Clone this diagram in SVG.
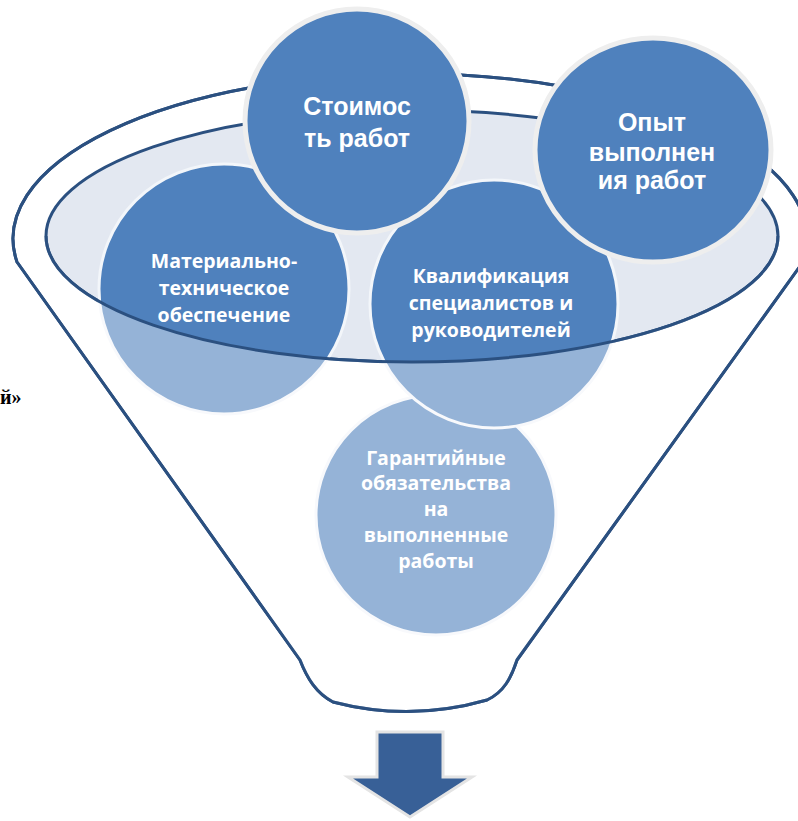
<svg xmlns="http://www.w3.org/2000/svg" width="798" height="821" viewBox="0 0 798 821">
  <style>
    .rim { stroke: #2b5080; stroke-width: 3; stroke-linejoin: round; }
    .disc { fill: #4f81bd; }
    .disc-soft { stroke: #f3f6fa; stroke-width: 3; }
    .disc-top { stroke: #eeeeee; stroke-width: 5; }
    .big { font-family: "Liberation Sans", Arial, sans-serif; font-weight: bold; font-size: 25px; fill: #ffffff; text-anchor: middle; }
    .small { font-family: "Open Sans", "DejaVu Sans", sans-serif; font-weight: bold; font-size: 19.5px; fill: #ffffff; text-anchor: middle; }
  </style>
  <defs>
    <!-- funnel body outline: back rim arc, two sides, rounded spout -->
    <path id="funnelShape" d="M 17,262 A 397,165 0 1 1 803,262 L 517,660 C 511,678 504,692 487,700 Q 410,722 333,702 C 316,693 307,678 300,660 Z"/>
  </defs>

  <rect width="798" height="821" fill="#ffffff"/>

  <!-- stray caption fragment at the left edge -->
  <text x="0" y="404" font-family="Liberation Serif, Times New Roman, serif" font-weight="bold" font-size="20" fill="#000000">й»</text>

  <!-- funnel back -->
  <g id="funnel">
    <use href="#funnelShape" fill="#ffffff" class="rim"/>
    <ellipse cx="412" cy="236" rx="366" ry="126" fill="#e3e8f1" class="rim"/>
  </g>

  <!-- circles inside the funnel -->
  <g id="node-guarantee">
    <circle cx="436" cy="515" r="120" class="disc disc-soft"/>
    <text class="small" x="436" y="465">Гарантийные</text>
    <text class="small" x="436" y="490">обязательства</text>
    <text class="small" x="436" y="516">на</text>
    <text class="small" x="436" y="542">выполненные</text>
    <text class="small" x="436" y="568">работы</text>
  </g>

  <g id="node-material">
    <circle cx="224" cy="289" r="125" class="disc disc-soft"/>
    <text class="small" x="224" y="268">Материально-</text>
    <text class="small" x="224" y="295">техническое</text>
    <text class="small" x="224" y="322">обеспечение</text>
  </g>

  <g id="node-qualification">
    <circle cx="494" cy="304" r="124" class="disc disc-soft"/>
    <text class="small" x="491" y="283">Квалификация</text>
    <text class="small" x="491" y="310">специалистов и</text>
    <text class="small" x="491" y="337">руководителей</text>
  </g>

  <!-- funnel front: translucent body below the rim and front edge lines -->
  <g id="funnel-front">
    <path d="M 46,236 A 366,126 0 0 0 778,236 L 810,236 L 517,660 C 511,678 504,692 487,700 Q 410,722 333,702 C 316,693 307,678 300,660 L 12,236 Z" fill="#ffffff" fill-opacity="0.4"/>
    <path d="M 46,236 A 366,126 0 0 0 778,236" fill="none" class="rim"/>
    <use href="#funnelShape" fill="none" class="rim"/>
  </g>

  <!-- circles above the rim -->
  <g id="node-cost">
    <circle cx="357" cy="121" r="112" class="disc disc-top"/>
    <text class="big" x="357" y="115">Стоимос</text>
    <text class="big" x="357" y="147">ть работ</text>
  </g>

  <g id="node-experience">
    <ellipse cx="653" cy="150" rx="118" ry="112" class="disc disc-top"/>
    <text class="big" x="652" y="131">Опыт</text>
    <text class="big" x="652" y="161">выполнен</text>
    <text class="big" x="652" y="189">ия работ</text>
  </g>

  <!-- output arrow under the spout -->
  <g id="connectors">
    <path d="M 377,732 L 443,732 L 443,777 L 472,777 L 410,817 L 348,777 L 377,777 Z" fill="#386097" stroke="#e4e4e4" stroke-width="3" stroke-linejoin="miter"/>
  </g>
</svg>
